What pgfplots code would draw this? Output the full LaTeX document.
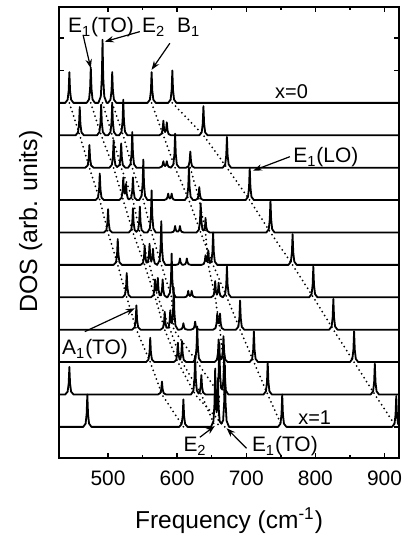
\documentclass[border=0pt]{standalone}
\usepackage{fontspec}
\setmainfont{Liberation Sans}
\usepackage{pgfplots}
\pgfplotsset{compat=1.18}
\usetikzlibrary{arrows.meta}

\newcommand\anno{\fontsize{10.5}{12}\selectfont}
\tikzset{arr/.style={-{Stealth[length=4.5bp,width=3.2bp]}, line width=0.6bp}}

\begin{document}
\begin{tikzpicture}
\begin{axis}[
    name=ax, scale only axis,
    width=170bp, height=225.5bp,
    xmin=429, xmax=921, ymin=-0.96, ymax=12.96,
    xtick={500,600,700,800,900}, minor x tick num=1,
    ytick={0,...,12}, yticklabels={},
    tick align=inside,
    major tick length=2.6bp, minor tick length=1.6bp,
    axis line style={line width=0.9bp},
    every tick/.append style={line width=0.7bp, black},
    /pgf/number format/assume math mode=true,
    xticklabel style={font=\anno, anchor=base, yshift=-13.5bp},
    curve/.style={black, line width=0.9bp, line join=round, mark=none},
    dots/.style={black, line width=1bp, line cap=round, dash pattern=on 0pt off 2.3bp, mark=none},
]
% dotted guides: peak positions followed from x=0 (offset 10) to x=1 (offset 0)
\addplot[dots] coordinates {(444,10)(459,9)(473,8)(488,7)(500,6)(514,5)(527,4)(541,3)(561,2)(578,1)(609,0)};
\addplot[dots] coordinates {(475,10)(490,9)(508,8)(522,7)(536,6)(553,5)(568,4)(582,3)(601,2)(626,1)(669,0)};
\addplot[dots] coordinates {(492,10)(506,9)(519,8)(536,7)(546,6)(560,5)(572,4)(590,3)(607,2)(635,1)(655,0)};
\addplot[dots] coordinates {(506,10)(522,9)(535,8)(551,7)(563,6)(577,5)(592,4)(595,3)(629,2)(661,1)(659,0)};
\addplot[dots] coordinates {(563,10)(580,9)(597,8)(617,7)(634,6)(652,5)(672,4)(691,3)(711,2)(731,1)(752,0)};
\addplot[dots] coordinates {(593,10)(638,9)(672,8)(705,7)(735,6)(767,5)(797,4)(826,3)(856,2)(886,1)(917,0)};
\addplot[dots] coordinates {(619,8)(632,7)(641,6)(645,5)(655,4)(662,3)(667,2)(668,1)};

% x = 0
\addplot[curve, y filter/.expression={y+10}] coordinates {
(425,0)(438,0)(441.5,.1)(443,.38)(444,.95)(445,.38)(446.5,.1)(450,0)
(469,0)(472.5,.11)(474,.44)(475,1.1)(476,.44)(477.5,.11)(481,0)
(486,0)(489.5,.2)(491,.78)(492,1.95)(493,.78)(494.5,.2)(498,0)
(500,0)(503.5,.1)(505,.38)(506,.95)(507,.38)(508.5,.1)(512,0)
(557,0)(560.5,.1)(562,.38)(563,.95)(564,.38)(565.5,.1)(569,0)
(587,0)(590.5,.1)(592,.4)(593,1)(594,.4)(595.5,.1)(599,0)(925,0)};
% x = 0.1
\addplot[curve, y filter/.expression={y+9}] coordinates {
(425,0)(453,0)(456.5,.09)(458,.35)(459,.87)(460,.35)(461.5,.09)(465,0)
(484,0)(487.5,.1)(489,.38)(490,.95)(491,.38)(492.5,.1)(496,0)
(500,0)(503.5,.1)(505,.4)(506,1)(507,.4)(508.5,.1)(512,0)
(516,0)(519.5,.11)(521,.44)(522,1.1)(523,.44)(524.5,.11)(528,0)
(574,0)(577.5,.05)(579,.18)(580,.45)(581,.2)(582.5,.1)(584,.17)(585,.4)(586,.16)(587.5,.04)(591,0)
(632,0)(635.5,.09)(637,.36)(638,.9)(639,.36)(640.5,.09)(644,0)(925,0)};
% x = 0.2
\addplot[curve, y filter/.expression={y+8}] coordinates {
(425,0)(467,0)(470.5,.07)(472,.28)(473,.7)(474,.28)(475.5,.07)(479,0)
(502,0)(505.5,.09)(507,.34)(508,.85)(509,.34)(510.5,.09)(513,.02)
(516.5,.08)(518,.3)(519,.75)(520,.3)(521.5,.08)(525,0)
(529,0)(532.5,.11)(534,.44)(535,1.1)(536,.44)(537.5,.11)(541,0)
(574,0)(577.5,.03)(579,.09)(580,.2)(581,.09)(582.5,.05)(584,.09)(585,.2)(586,.09)(587.5,.03)(591,0)
(594.5,.1)(596,.42)(597,1.05)(598,.42)(599.5,.1)(603,0)
(613,0)(616.5,.05)(618,.2)(619,.5)(620,.2)(621.5,.05)(625,0)
(666,0)(669.5,.1)(671,.38)(672,.95)(673,.38)(674.5,.1)(678,0)(925,0)};
% x = 0.3
\addplot[curve, y filter/.expression={y+7}] coordinates {
(425,0)(482,0)(485.5,.08)(487,.33)(488,.82)(489,.33)(490.5,.08)(494,0)
(516,0)(519.5,.07)(521,.28)(522,.7)(523,.3)(524,.2)(525,.22)(526,.5)(527,.2)(528.5,.06)
(530,.02)(533.5,.07)(535,.28)(536,.7)(537,.28)(538.5,.07)(542,0)
(545,0)(548.5,.13)(550,.5)(551,1.25)(552,.5)(553.5,.13)(557,0)
(581,0)(584.5,.03)(586,.09)(587,.2)(588,.09)(589.5,.05)(591,.09)(592,.2)(593,.08)(594.5,.02)(598,0)
(611,0)(614.5,.1)(616,.4)(617,1)(618,.4)(619.5,.1)(623,0)
(626,0)(629.5,.04)(631,.16)(632,.4)(633,.16)(634.5,.04)(638,0)
(699,0)(702.5,.1)(704,.4)(705,1)(706,.4)(707.5,.1)(711,0)(925,0)};
% x = 0.4
\addplot[curve, y filter/.expression={y+6}] coordinates {
(425,0)(494,0)(497.5,.07)(499,.29)(500,.72)(501,.29)(502.5,.07)(506,0)
(530,0)(533.5,.08)(535,.3)(536,.75)(537,.3)(538.5,.08)(541,.02)
(543.5,.08)(545,.32)(546,.8)(547,.32)(548.5,.08)(552,0)
(557,0)(560.5,.13)(562,.52)(563,1.3)(564,.52)(565.5,.13)(569,0)
(591,0)(594.5,.02)(596,.08)(597,.2)(598,.08)(599.5,.03)(601.5,.03)(603,.08)(604,.2)(605,.08)(606.5,.02)(610,0)
(628,0)(631.5,.09)(633,.36)(634,.9)(635,.36)(636.5,.1)(638,.06)(639.5,.1)(640.3,.18)(641,.45)(642,.18)(643.5,.05)(647,0)
(729,0)(732.5,.1)(734,.4)(735,1)(736,.4)(737.5,.1)(741,0)(925,0)};
% x = 0.5
\addplot[curve, y filter/.expression={y+5}] coordinates {
(425,0)(508,0)(511.5,.08)(513,.32)(514,.8)(515,.32)(516.5,.08)(520,0)
(547,0)(550.5,.06)(552,.24)(553,.6)(554,.24)(555.5,.07)(557.5,.08)(559,.26)(560,.65)(561,.27)(562.5,.1)(564,.22)(565,.5)(566,.2)(567.5,.05)(571,0)
(574.5,.14)(576,.54)(577,1.35)(578,.54)(579.5,.14)(583,0)
(598,0)(601.5,.02)(603,.08)(604,.2)(605,.08)(606.5,.02)(608,0)(611.5,.02)(613,.08)(614,.2)(615,.08)(616.5,.02)(620,0)
(635,0)(638.5,.03)(640,.12)(641,.3)(642,.14)(643.5,.1)(644,.18)(645,.45)(646,.18)(647.5,.06)(649.5,.1)(651,.4)(652,1)(653,.4)(654.5,.1)(658,0)
(761,0)(764.5,.1)(766,.38)(767,.95)(768,.38)(769.5,.1)(773,0)(925,0)};
% x = 0.6
\addplot[curve, y filter/.expression={y+4}] coordinates {
(425,0)(521,0)(524.5,.08)(526,.3)(527,.75)(528,.3)(529.5,.08)(533,0)
(562,0)(565.5,.06)(567,.22)(568,.55)(569,.24)(570,.2)(571,.24)(572,.6)(573,.24)(574.5,.07)(576.5,.06)(578,.22)(579,.55)(580,.22)(581.5,.06)(585,0)
(586,0)(589.5,.14)(591,.54)(592,1.35)(593,.54)(594.5,.14)(598,0)
(610,0)(613.5,.02)(615,.08)(616,.2)(617,.08)(618.5,.04)(620,.08)(621,.2)(622,.08)(623.5,.02)(627,0)
(649,0)(652.5,.05)(654,.2)(655,.5)(656,.2)(657.5,.08)(659,.18)(660,.45)(661,.18)(662.5,.05)(666,0)
(669.5,.1)(671,.38)(672,.95)(673,.38)(674.5,.1)(678,0)
(791,0)(794.5,.1)(796,.38)(797,.95)(798,.38)(799.5,.1)(803,0)(925,0)};
% x = 0.7
\addplot[curve, y filter/.expression={y+3}] coordinates {
(425,0)(535,0)(538.5,.08)(540,.3)(541,.75)(542,.3)(543.5,.08)(547,0)
(576,0)(579.5,.06)(581,.22)(582,.55)(583,.22)(584.5,.06)(587.5,.06)(589,.24)(590,.6)(591,.26)(592.5,.2)(594,.52)(595,1.3)(596,.52)(597.5,.13)(601,0)
(603,0)(606.5,.02)(608,.08)(609,.2)(610,.08)(611.5,.02)(615,0)
(620,0)(623.5,.03)(625,.1)(626,.25)(627,.1)(628.5,.03)(632,0)
(652,0)(655.5,.05)(657,.2)(658,.5)(659,.22)(660,.2)(661,.22)(662,.5)(663,.2)(664.5,.05)(668,0)
(685,0)(688.5,.09)(690,.36)(691,.9)(692,.36)(693.5,.09)(697,0)
(820,0)(823.5,.1)(825,.38)(826,.95)(827,.38)(828.5,.1)(832,0)(925,0)};
% x = 0.8
\addplot[curve, y filter/.expression={y+2}] coordinates {
(425,0)(555,0)(558.5,.08)(560,.3)(561,.75)(562,.3)(563.5,.08)(567,0)
(595,0)(598.5,.06)(600,.24)(601,.6)(602,.24)(603.5,.08)(604.5,.08)(606,.26)(607,.65)(608,.26)(609.5,.07)(613,0)
(623,0)(626.5,.11)(628,.44)(629,1.1)(630,.44)(631.5,.11)(635,0)
(654,0)(657.5,.07)(659,.28)(660,.7)(661,.28)(662.5,.08)(664.5,.1)(666,.32)(667,.8)(668,.32)(669.5,.08)(673,0)
(705,0)(708.5,.1)(710,.38)(711,.95)(712,.38)(713.5,.1)(717,0)
(850,0)(853.5,.1)(855,.38)(856,.95)(857,.38)(858.5,.1)(862,0)(925,0)};
% x = 0.9
\addplot[curve, y filter/.expression={y+1}] coordinates {
(425,0)(438,0)(441.5,.09)(443,.34)(444,.85)(445,.34)(446.5,.09)(450,0)
(572,0)(575.5,.04)(577,.16)(578,.4)(579,.16)(580.5,.04)(584,0)
(620,0)(623.5,.12)(625,.48)(626,1.2)(627,.48)(628.5,.12)(631,.03)(632.5,.06)(634,.24)(635,.6)(636,.24)(637.5,.06)(641,0)
(655,0)(658.5,.16)(660,.64)(661,1.6)(662,.64)(663.5,.2)(665.5,.15)(667,.48)(668,1.2)(669,.48)(670.5,.12)(674,0)
(725,0)(728.5,.1)(730,.4)(731,1)(732,.4)(733.5,.1)(737,0)
(880,0)(883.5,.1)(885,.38)(886,.95)(887,.38)(888.5,.1)(892,0)(925,0)};
% x = 1
\addplot[curve] coordinates {
(425,0)(464,0)(467.5,.1)(469,.4)(470,1)(471,.4)(472.5,.1)(476,0)
(603,0)(606.5,.09)(608,.34)(609,.85)(610,.34)(611.5,.09)(615,0)
(649,0)(652.5,.18)(654,.72)(655,1.8)(656,.72)(657,.45)(658,.6)(659,1.5)(660,.6)(661.5,.17)(664,.1)(666.5,.2)(668,.76)(669,1.9)(670,.76)(671.5,.19)(675,0)
(746,0)(749.5,.1)(751,.4)(752,1)(753,.4)(754.5,.1)(758,0)
(911,0)(914.5,.1)(916,.38)(917,.95)(918,.38)(919.5,.1)(923,0)(925,0)};

% labels
\begin{scope}[every node/.style={inner sep=0pt, anchor=base west, font=\anno}]
\node at (axis cs:441.6,12.16) {E\textsubscript{1}(TO)};
\node at (axis cs:548.8,12.16) {E\textsubscript{2}};
\node at (axis cs:599.5,12.16) {B\textsubscript{1}};
\node[font=\fontsize{10}{12}\selectfont] at (axis cs:741.3,10.15) {x=0};
\node at (axis cs:767.5,8.15) {E\textsubscript{1}(LO)};
\node at (axis cs:433,2.22) {A\textsubscript{1}(TO)};
\node[font=\fontsize{10}{12}\selectfont] at (axis cs:774.7,0.06) {x=1};
\node at (axis cs:608.6,-0.77) {E\textsubscript{2}};
\node at (axis cs:707.7,-0.77) {E\textsubscript{1}(TO)};
\end{scope}
\draw[arr] (axis cs:463.8,12.1) -- (axis cs:474.9,11.07);
\draw[arr] (axis cs:545.9,12.2) -- (axis cs:495.2,11.89);
\draw[arr] (axis cs:589.4,11.84) -- (axis cs:562.9,11.02);
\draw[arr] (axis cs:763.1,8.34) -- (axis cs:710,7.91);
\draw[arr] (axis cs:466.3,2.94) -- (axis cs:538.7,3.66);
\draw[arr] (axis cs:632.8,-0.32) -- (axis cs:654.5,0.03);
\draw[arr] (axis cs:700.4,-0.66) -- (axis cs:671.5,-0.04);
\end{axis}
\node[anchor=base, font=\fontsize{12.3}{14}\selectfont] at ([yshift=-35bp]ax.south) {Frequency (cm\textsuperscript{-1})};
\node[anchor=base, rotate=90, font=\fontsize{12.5}{14}\selectfont] at ([xshift=-11bp,yshift=5.5bp]ax.west) {DOS (arb. units)};
\pgfresetboundingbox
\path[use as bounding box] ([shift={(-29.5bp,-39.5bp)}]ax.south west) rectangle ([shift={(3.5bp,3.5bp)}]ax.north east);
\end{tikzpicture}
\end{document}
